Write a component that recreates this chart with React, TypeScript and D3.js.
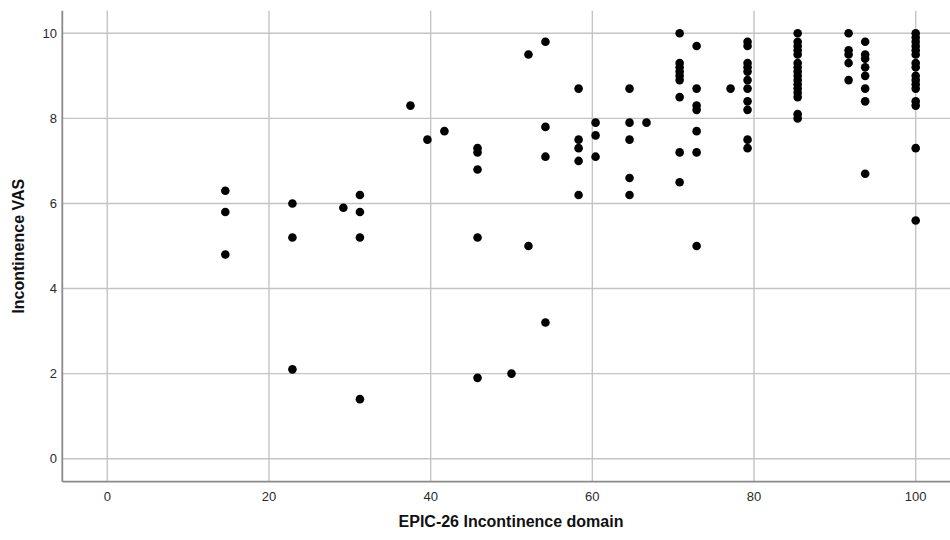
import React from "react";
import * as d3 from "d3";

// EPIC-26 Incontinence domain score levels (x) and the Incontinence VAS values observed at each level (y)
const epicLevels: number[] = [14.6, 22.9, 29.2, 31.25, 37.5, 39.6, 41.7, 45.8, 50.0, 52.1, 54.2, 58.3, 60.4, 64.6, 66.7, 70.8, 72.9, 77.1, 79.2, 85.4, 91.7, 93.75, 100];
const vasAtLevel: number[][] = [
  [6.3, 5.8, 4.8],
  [6.0, 5.2, 2.1],
  [5.9],
  [6.2, 5.8, 5.2, 1.4],
  [8.3],
  [7.5],
  [7.7],
  [7.3, 7.2, 6.8, 5.2, 1.9],
  [2.0],
  [9.5, 5.0],
  [9.8, 7.8, 7.1, 3.2],
  [8.7, 7.5, 7.3, 7.0, 6.2],
  [7.9, 7.6, 7.1],
  [8.7, 7.9, 7.5, 6.6, 6.2],
  [7.9],
  [10.0, 9.3, 9.2, 9.1, 9.0, 8.9, 8.5, 7.2, 6.5],
  [9.7, 8.7, 8.3, 8.2, 7.7, 7.2, 5.0],
  [8.7],
  [9.8, 9.7, 9.3, 9.2, 9.1, 8.9, 8.7, 8.4, 8.2, 7.5, 7.3],
  [10.0, 9.8, 9.7, 9.6, 9.5, 9.3, 9.2, 9.1, 9.0, 8.9, 8.8, 8.7, 8.6, 8.5, 8.1, 8.0],
  [10.0, 9.6, 9.5, 9.3, 8.9],
  [9.8, 9.5, 9.4, 9.2, 9.0, 8.7, 8.4, 6.7],
  [10.0, 9.9, 9.8, 9.7, 9.6, 9.5, 9.3, 9.2, 9.0, 8.9, 8.8, 8.7, 8.4, 8.3, 7.3, 5.6],
];
const xTicks: number[] = [0, 20, 40, 60, 80, 100];
const yTicks: number[] = [0, 2, 4, 6, 8, 10];
const xTitle = "EPIC-26 Incontinence domain";
const yTitle = "Incontinence VAS";

const W = 950;
const H = 540;
const plotLeft = 62.3;
const plotRight = 950;
const plotTop = 10.7;
const plotBottom = 481.7;

export default function App() {
  const x = d3.scaleLinear().domain([0, 100]).range([107.3, 915.7]);
  const y = d3.scaleLinear().domain([0, 10]).range([458.7, 33.3]);

  const points: { ex: number; vy: number }[] = [];
  epicLevels.forEach((ex, i) => {
    vasAtLevel[i].forEach((vy) => points.push({ ex, vy }));
  });

  const font = "'Liberation Sans', Arial, sans-serif";

  return (
    <div style={{ position: "fixed", left: 0, top: 0, width: W, height: H, background: "#fff" }}>
      <svg width={W} height={H} style={{ display: "block" }}>
        <rect x={0} y={0} width={W} height={H} fill="#ffffff" />
        {/* gridlines */}
        {yTicks.map((t) => (
          <line key={"hy" + t} x1={plotLeft} x2={plotRight} y1={y(t)} y2={y(t)} stroke="#c4c4c4" strokeWidth={1.4} />
        ))}
        {xTicks.map((t) => (
          <line key={"vx" + t} x1={x(t)} x2={x(t)} y1={plotTop} y2={plotBottom} stroke="#c4c4c4" strokeWidth={1.4} />
        ))}
        {/* axes */}
        <line x1={plotLeft} x2={plotLeft} y1={plotTop} y2={plotBottom} stroke="#8a8a8a" strokeWidth={1.8} />
        <line x1={plotLeft} x2={plotRight} y1={plotBottom} y2={plotBottom} stroke="#8a8a8a" strokeWidth={1.8} />
        {/* tick labels */}
        {yTicks.map((t) => (
          <text key={"ty" + t} x={57} y={y(t)} dy="0.35em" textAnchor="end" fontFamily={font} fontSize={13} fill="#2a2a2a">
            {t}
          </text>
        ))}
        {xTicks.map((t) => (
          <text key={"tx" + t} x={x(t)} y={496} dy="0.35em" textAnchor="middle" fontFamily={font} fontSize={13} fill="#2a2a2a">
            {t}
          </text>
        ))}
        {/* axis titles */}
        <text x={511} y={527} textAnchor="middle" fontFamily={font} fontSize={16} fontWeight="bold" fill="#111">
          {xTitle}
        </text>
        <text
          transform={`translate(24, ${(plotTop + plotBottom) / 2}) rotate(-90)`}
          textAnchor="middle"
          fontFamily={font}
          fontSize={16}
          fontWeight="bold"
          fill="#111"
        >
          {yTitle}
        </text>
        {/* points */}
        {points.map((p, i) => (
          <circle key={i} cx={x(p.ex)} cy={y(p.vy)} r={4.3} fill="#000" />
        ))}
      </svg>
    </div>
  );
}
